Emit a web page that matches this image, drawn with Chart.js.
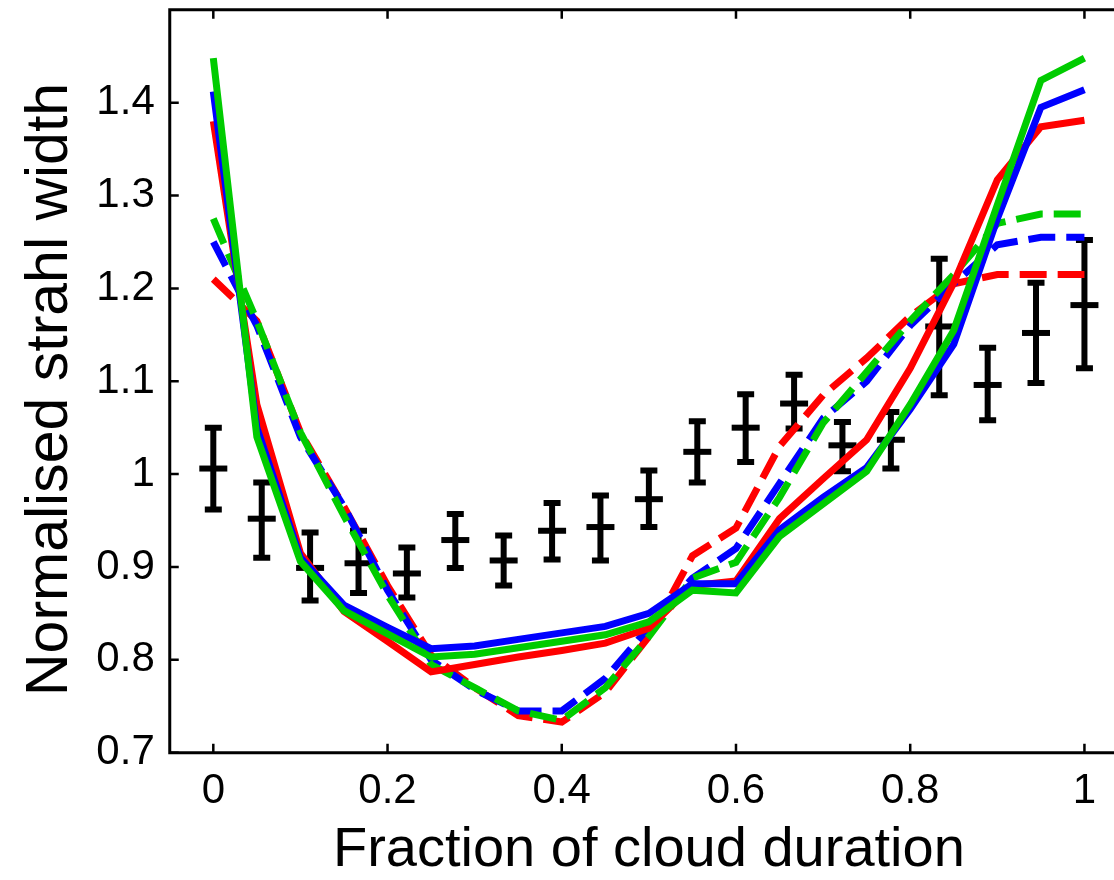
<!DOCTYPE html>
<html>
<head>
<meta charset="utf-8">
<script src="https://cdn.jsdelivr.net/npm/chart.js@4.4.1/dist/chart.umd.min.js"></script>
<style>
  html, body { margin: 0; padding: 0; background: #fff; overflow: hidden; width: 1114px; height: 880px; }
  #wrap { width: 1130px; height: 880px; position: absolute; left: 0; top: 0; }
  canvas { display: block; }
</style>
</head>
<body>
<div id="wrap"><canvas id="strahl" width="1130" height="880" style="width:1130px;height:880px"></canvas></div>
<script>
// Model curves, sampled every 0.05 of the cloud duration
const fraction = [0, 0.05, 0.1, 0.15, 0.2, 0.25, 0.3, 0.35, 0.4, 0.45, 0.5,
                  0.55, 0.6, 0.65, 0.7, 0.75, 0.8, 0.85, 0.9, 0.95, 1];

const solidRed   = [1.380, 1.075, 0.915, 0.852, 0.820, 0.787, 0.795, 0.803, 0.810, 0.818, 0.834,
                    0.880, 0.885, 0.952, 0.995, 1.037, 1.114, 1.206, 1.317, 1.374, 1.381];
const solidBlue  = [1.412, 1.050, 0.910, 0.859, 0.835, 0.812, 0.815, 0.822, 0.829, 0.836, 0.850,
                    0.882, 0.882, 0.940, 0.975, 1.007, 1.070, 1.140, 1.275, 1.395, 1.414];
const solidGreen = [1.448, 1.040, 0.906, 0.853, 0.828, 0.803, 0.806, 0.813, 0.820, 0.827, 0.841,
                    0.875, 0.872, 0.933, 0.968, 1.003, 1.075, 1.155, 1.290, 1.424, 1.448];

const dashRed    = [1.210, 1.165, 1.045, 0.965, 0.880, 0.805, 0.770, 0.740, 0.733, 0.765, 0.825,
                    0.912, 0.942, 1.030, 1.085, 1.125, 1.170, 1.205, 1.215, 1.215, 1.215];
const dashBlue   = [1.250, 1.160, 1.040, 0.965, 0.875, 0.800, 0.768, 0.745, 0.745, 0.780, 0.835,
                    0.888, 0.920, 0.990, 1.060, 1.100, 1.160, 1.205, 1.247, 1.255, 1.255];
const dashGreen  = [1.275, 1.165, 1.045, 0.955, 0.870, 0.795, 0.770, 0.745, 0.735, 0.770, 0.825,
                    0.888, 0.905, 0.975, 1.055, 1.110, 1.165, 1.215, 1.270, 1.280, 1.280];

// Observed widths in 18 bins, with error bar limits
const binFraction = [0, 0.0556, 0.1111, 0.1667, 0.2222, 0.2778, 0.3333, 0.3889, 0.4444, 0.5,
                     0.5556, 0.6111, 0.6667, 0.7222, 0.7778, 0.8333, 0.8889, 0.9444, 1];
const observed    = [1.006, 0.952, 0.899, 0.904, 0.893, 0.929, 0.907, 0.939, 0.943, 0.973,
                     1.024, 1.050, 1.076, 1.031, 1.037, 1.159, 1.096, 1.152, 1.182];
const observedHi  = [1.050, 0.991, 0.937, 0.939, 0.921, 0.957, 0.934, 0.969, 0.977, 1.004,
                     1.057, 1.086, 1.107, 1.056, 1.067, 1.232, 1.136, 1.206, 1.252];
const observedLo  = [0.962, 0.910, 0.864, 0.872, 0.867, 0.899, 0.880, 0.908, 0.907, 0.943,
                     0.991, 1.013, 1.049, 1.003, 1.006, 1.085, 1.058, 1.098, 1.114];

const xTickValues = [0, 0.2, 0.4, 0.6, 0.8, 1];
const yTickValues = [0.7, 0.8, 0.9, 1, 1.1, 1.2, 1.3, 1.4];

const RED = '#ff0000', BLUE = '#0000ff', GREEN = '#00cc00';
const FONT = "'Liberation Sans', Arial, sans-serif";

const pts = (xs, ys) => xs.map((x, i) => ({ x: x, y: ys[i] }));
const fmt = v => String(Math.round(v * 10) / 10);

// Keep the plot box at a fixed place: no extra room for overhanging labels
const noOverhang = s => {
  s.paddingTop = 0; s.paddingBottom = 0; s.paddingLeft = 0; s.paddingRight = 0;
};

// Vertical whiskers with end caps, drawn beneath all curves
const errorBars = {
  id: 'errorBars',
  beforeDatasetsDraw(chart) {
    const { ctx, scales: { x, y } } = chart;
    ctx.save();
    ctx.strokeStyle = '#000';
    ctx.lineWidth = 6;
    ctx.lineCap = 'butt';
    binFraction.forEach((v, i) => {
      const px = x.getPixelForValue(v);
      const top = y.getPixelForValue(observedHi[i]);
      const bot = y.getPixelForValue(observedLo[i]);
      ctx.beginPath();
      ctx.moveTo(px, top); ctx.lineTo(px, bot);
      ctx.moveTo(px - 8.5, top); ctx.lineTo(px + 8.5, top);
      ctx.moveTo(px - 8.5, bot); ctx.lineTo(px + 8.5, bot);
      ctx.stroke();
    });
    ctx.restore();
  }
};

// Axes box (left, bottom, top) with inward tick marks
const axesBox = {
  id: 'axesBox',
  afterDraw(chart) {
    const { ctx, chartArea: a, scales: { x, y } } = chart;
    ctx.save();
    ctx.strokeStyle = '#000';
    ctx.lineWidth = 2.5;
    ctx.beginPath();
    x.ticks.forEach(t => {
      const px = x.getPixelForValue(t.value);
      ctx.moveTo(px, a.bottom); ctx.lineTo(px, a.bottom - 9);
      ctx.moveTo(px, a.top); ctx.lineTo(px, a.top + 9);
    });
    y.ticks.forEach(t => {
      const py = y.getPixelForValue(t.value);
      ctx.moveTo(a.left, py); ctx.lineTo(a.left + 9, py);
    });
    ctx.stroke();
    ctx.lineWidth = 3;
    ctx.beginPath();
    ctx.moveTo(a.right, a.top);
    ctx.lineTo(a.left, a.top);
    ctx.lineTo(a.left, a.bottom);
    ctx.lineTo(a.right, a.bottom);
    ctx.stroke();
    ctx.restore();
  }
};

const lineSet = (label, data, color, dashed, order) => ({
  label: label,
  data: pts(fraction, data),
  borderColor: color,
  backgroundColor: color,
  borderWidth: 7,
  borderDash: dashed ? [27, 11] : [],
  borderCapStyle: 'butt',
  borderJoinStyle: 'miter',
  pointRadius: 0,
  tension: 0,
  fill: false,
  order: order
});

new Chart(document.getElementById('strahl'), {
  type: 'line',
  data: {
    datasets: [
      lineSet('Model A', solidGreen, GREEN, false, 1),
      lineSet('Model B', solidBlue, BLUE, false, 2),
      lineSet('Model C', solidRed, RED, false, 3),
      lineSet('Model A (alt.)', dashGreen, GREEN, true, 4),
      lineSet('Model B (alt.)', dashBlue, BLUE, true, 5),
      lineSet('Model C (alt.)', dashRed, RED, true, 6),
      {
        label: 'Observed',
        data: pts(binFraction, observed),
        showLine: false,
        pointStyle: 'line',
        pointRadius: 14,
        pointBorderWidth: 6,
        borderColor: '#000',
        backgroundColor: '#000',
        clip: false,
        order: 7
      }
    ]
  },
  options: {
    responsive: false,
    maintainAspectRatio: false,
    animation: false,
    devicePixelRatio: 1,
    layout: { autoPadding: false, padding: { top: 9.8, right: 2, left: 0, bottom: 0 } },
    plugins: { legend: { display: false }, tooltip: { enabled: false } },
    scales: {
      x: {
        type: 'linear',
        min: -0.05,
        max: 1.05,
        afterBuildTicks: s => { s.ticks = xTickValues.map(v => ({ value: v })); },
        afterFit: s => { s.height = 127.3; noOverhang(s); },
        grid: { display: false, drawTicks: false },
        border: { display: false },
        ticks: {
          color: '#000',
          font: { family: FONT, size: 42, lineHeight: 1.2 },
          padding: 14,
          maxRotation: 0,
          autoSkip: false,
          callback: v => fmt(v)
        },
        title: {
          display: true,
          text: 'Fraction of cloud duration',
          color: '#000',
          font: { family: FONT, size: 56, lineHeight: 1 },
          padding: { top: 0, bottom: 1 }
        }
      },
      y: {
        type: 'linear',
        min: 0.7,
        max: 1.5,
        afterBuildTicks: s => { s.ticks = yTickValues.map(v => ({ value: v })); },
        afterFit: s => { s.width = 169.75; noOverhang(s); },
        grid: { display: false, drawTicks: false },
        border: { display: false },
        ticks: {
          color: '#000',
          font: { family: FONT, size: 42, lineHeight: 1.2 },
          padding: 15,
          autoSkip: false,
          callback: v => fmt(v)
        },
        title: {
          display: true,
          text: 'Normalised strahl width ',
          color: '#000',
          font: { family: FONT, size: 59, lineHeight: 1 },
          padding: { top: 21, bottom: 0 }
        }
      }
    }
  },
  plugins: [errorBars, axesBox]
});
</script>
</body>
</html>
